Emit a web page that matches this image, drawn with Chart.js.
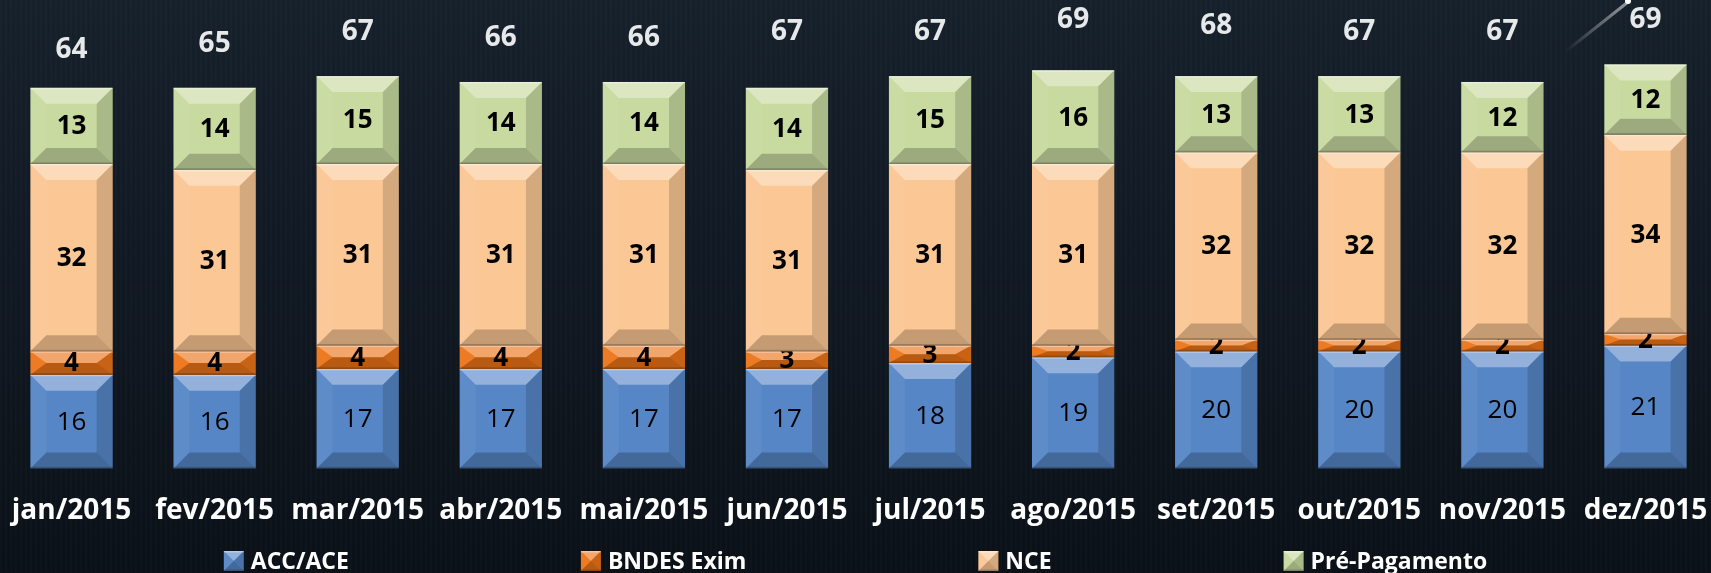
<!DOCTYPE html>
<html>
<head>
<meta charset="utf-8">
<script src="https://cdn.jsdelivr.net/npm/chart.js@4.4.1/dist/chart.umd.min.js"></script>
<style>
  html, body { margin: 0; padding: 0; }
  body {
    width: 1711px; height: 573px; overflow: hidden;
    background:
      repeating-linear-gradient(90deg, rgba(255,255,255,0.012) 0 2px, rgba(0,0,0,0.03) 2px 5px),
      linear-gradient(180deg, #17212c 0%, #111a24 45%, #0b1118 100%);
  }
  #wrap { position: relative; width: 1717px; height: 573px; }
</style>
</head>
<body>
<div id="wrap"><canvas id="chart"></canvas></div>
<script>
// ── data ──────────────────────────────────────────────────────────────────
const months  = ["jan/2015","fev/2015","mar/2015","abr/2015","mai/2015","jun/2015",
                 "jul/2015","ago/2015","set/2015","out/2015","nov/2015","dez/2015"];
const accAce  = [16, 16, 17, 17, 17, 17, 18, 19, 20, 20, 20, 21];
const bndes   = [4, 4, 4, 4, 4, 3, 3, 2, 2, 2, 2, 2];
const nce     = [32, 31, 31, 31, 31, 31, 31, 31, 32, 32, 32, 34];
const prePag  = [13, 14, 15, 14, 14, 14, 15, 16, 13, 13, 12, 12];
const totals  = [64, 65, 67, 66, 66, 67, 67, 69, 68, 67, 67, 69];
const seriesNames = ["ACC/ACE", "BNDES Exim", "NCE", "Pré-Pagamento"];

const FONT = "'Open Sans', 'DejaVu Sans', sans-serif";
const faces = ["#5686c6", "#ec7418", "#fbc794", "#c8daa0"];
const boldLbl = [false, true, true, true];

// ── bevel helper ──────────────────────────────────────────────────────────
function bevelRect(ctx, l, t, r, b, bv, face) {
  const h = b - t, w = r - l;
  const bvY = Math.min(bv, h / 2), bvX = Math.min(bv, w / 2);
  ctx.fillStyle = face; ctx.fillRect(l, t, w, h);
  const poly = (pts, fill) => {
    ctx.beginPath(); ctx.moveTo(pts[0][0], pts[0][1]);
    for (let i = 1; i < pts.length; i++) ctx.lineTo(pts[i][0], pts[i][1]);
    ctx.closePath(); ctx.fillStyle = fill; ctx.fill();
  };
  poly([[l,t],[r,t],[r-bvX,t+bvY],[l+bvX,t+bvY]], "rgba(255,255,255,0.36)");
  poly([[l,t],[l+bvX,t+bvY],[l+bvX,b-bvY],[l,b]], "rgba(255,255,255,0.05)");
  poly([[r,t],[r,b],[r-bvX,b-bvY],[r-bvX,t+bvY]], "rgba(0,0,0,0.15)");
  poly([[l,b],[l+bvX,b-bvY],[r-bvX,b-bvY],[r,b]], "rgba(0,0,0,0.22)");
  ctx.fillStyle = "rgba(255,255,255,0.35)"; ctx.fillRect(l, t, w, 1.5);
  ctx.fillStyle = "rgba(0,0,0,0.2)"; ctx.fillRect(l, b - 1.5, w, 1.5);
}

// ── plugins ───────────────────────────────────────────────────────────────
const bevelBars = {
  id: "bevelBars",
  afterDatasetsDraw(chart) {
    const ctx = chart.ctx;
    ctx.save();
    chart.data.datasets.forEach((ds, di) => {
      const meta = chart.getDatasetMeta(di);
      meta.data.forEach((el, i) => {
        const p = el.getProps(["x", "y", "base", "width"], true);
        const l = p.x - p.width / 2, r = p.x + p.width / 2;
        const t = Math.min(p.y, p.base), b = Math.max(p.y, p.base);
        bevelRect(ctx, l, t, r, b, 16, faces[di]);
        ctx.fillStyle = "#000";
        ctx.font = (boldLbl[di] ? "bold " : "") + "26px " + FONT;
        ctx.textAlign = "center"; ctx.textBaseline = "middle";
        ctx.fillText(ds.data[i], p.x, (t + b) / 2 + 1);
      });
    });
    const ys = chart.scales.y;
    const meta0 = chart.getDatasetMeta(0);
    ctx.fillStyle = "#e6e8ea";
    ctx.font = "bold 28px " + FONT;
    ctx.textAlign = "center"; ctx.textBaseline = "middle";
    totals.forEach((v, i) => {
      ctx.fillText(v, meta0.data[i].x, ys.getPixelForValue(v) - 44);
    });
    ctx.restore();
  }
};

const customLegend = {
  id: "customLegend",
  afterDraw(chart) {
    const ctx = chart.ctx;
    ctx.save();
    ctx.font = "bold 23px " + FONT;
    const box = 20, gapTxt = 7, gap = 232;
    const widths = seriesNames.map(n => box + gapTxt + ctx.measureText(n).width);
    const total = widths.reduce((a, b) => a + b, 0) + gap * (seriesNames.length - 1);
    let x = (1711 - total) / 2;
    const yc = 561;
    seriesNames.forEach((n, i) => {
      bevelRect(ctx, x, yc - box / 2, x + box, yc + box / 2, box / 2, faces[i]);
      ctx.fillStyle = "#ffffff";
      ctx.textAlign = "left"; ctx.textBaseline = "middle";
      ctx.fillText(n, x + box + gapTxt, yc + 1);
      x += widths[i] + gap;
    });
    // small decorative stroke, top right corner
    const g = ctx.createLinearGradient(1565, 52, 1628, 2);
    g.addColorStop(0, "rgba(255,255,255,0)");
    g.addColorStop(1, "rgba(255,255,255,0.55)");
    ctx.strokeStyle = g; ctx.lineWidth = 3;
    ctx.beginPath(); ctx.moveTo(1565, 52); ctx.lineTo(1628, 2); ctx.stroke();
    ctx.fillStyle = "#fff";
    ctx.beginPath(); ctx.arc(1628, 1, 3, 0, Math.PI * 2); ctx.fill();
    ctx.restore();
  }
};

// ── chart ─────────────────────────────────────────────────────────────────
const series = [accAce, bndes, nce, prePag];
new Chart(document.getElementById("chart"), {
  type: "bar",
  data: {
    labels: months,
    datasets: series.map((d, i) => ({
      label: seriesNames[i], data: d,
      backgroundColor: "rgba(0,0,0,0)", borderWidth: 0,
      categoryPercentage: 1, barPercentage: 0.575
    }))
  },
  options: {
    responsive: true, maintainAspectRatio: false, animation: false,
    layout: { padding: { top: 0, bottom: 27, left: 0, right: 0 } },
    plugins: { legend: { display: false }, tooltip: { enabled: false } },
    scales: {
      x: {
        stacked: true,
        grid: { display: false }, border: { display: false },
        afterFit: s => { s.paddingLeft = 0; s.paddingRight = 0; },
        ticks: { color: "#ffffff", padding: 18, font: { family: FONT, size: 28, weight: "bold" } }
      },
      y: { stacked: true, display: false, min: 0, max: 80 }
    }
  },
  plugins: [bevelBars, customLegend]
});
</script>
</body>
</html>
